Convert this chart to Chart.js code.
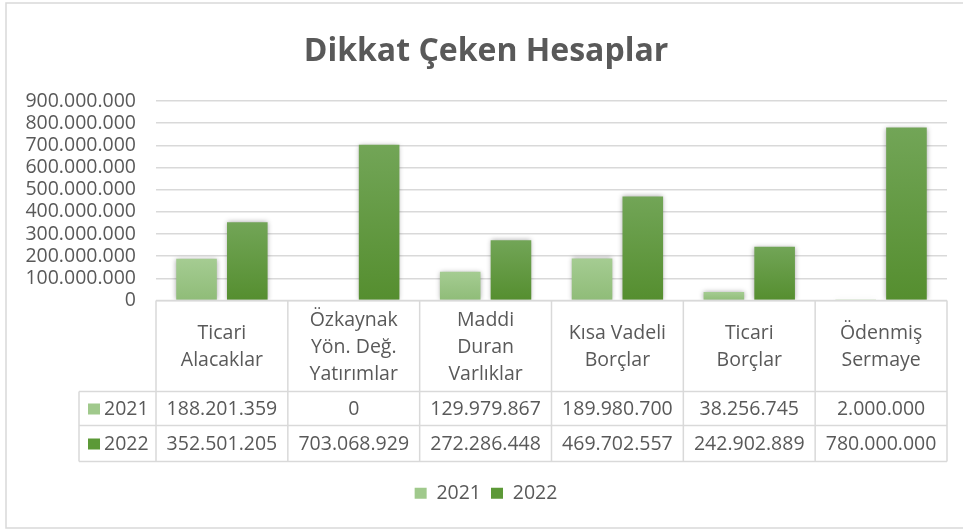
<!DOCTYPE html>
<html>
<head>
<meta charset="utf-8">
<script src="https://cdn.jsdelivr.net/npm/chart.js@4/dist/chart.umd.min.js"></script>
<style>
  body { margin: 0; background: #fff; }
  canvas { display: block; }
</style>
</head>
<body>
<canvas id="accountsChart" width="963" height="530"></canvas>
<script>
// data
const categories = [
    ['Ticari', 'Alacaklar'],
    ['Özkaynak', 'Yön. Değ.', 'Yatırımlar'],
    ['Maddi', 'Duran', 'Varlıklar'],
    ['Kısa Vadeli', 'Borçlar'],
    ['Ticari', 'Borçlar'],
    ['Ödenmiş', 'Sermaye']
];
const seriesNames = ['2021', '2022'];
const values2021 = [188201359, 0, 129979867, 189980700, 38256745, 2000000];
const values2022 = [352501205, 703068929, 272286448, 469702557, 242902889, 780000000];
const yMax = 900000000;
const yStep = 100000000;

const FONT = 'Open Sans';
const FONT_SIZE = 19.5;
const TEXT = '#595959';
const LINE = '#d9d9d9';

function formatNumber(n) {
    return String(n).replace(/\B(?=(\d{3})+(?!\d))/g, '.');
}

// per-bar vertical gradient like the Excel fill
function barFill(top, bottom, flat) {
    return (c) => {
        const chart = c.chart;
        if (c.type !== 'data' || !chart.chartArea || !chart.scales.y) return flat;
        const y = chart.scales.y;
        const y0 = y.getPixelForValue(0);
        const y1 = y.getPixelForValue(c.raw);
        if (!(y0 > y1)) return flat;
        const g = chart.ctx.createLinearGradient(0, y1, 0, y0);
        g.addColorStop(0, top);
        g.addColorStop(1, bottom);
        return g;
    };
}

const frameAndShadow = {
    id: 'frameAndShadow',
    beforeDraw(chart) {
        const ctx = chart.ctx;
        ctx.save();
        ctx.fillStyle = '#fff';
        ctx.fillRect(0, 0, chart.width, chart.height);
        ctx.strokeStyle = LINE;
        ctx.lineWidth = 1.5;
        ctx.strokeRect(6, 3, chart.width + 20, 525);
        ctx.restore();
    },
    beforeDatasetsDraw(chart) {
        const ctx = chart.ctx;
        ctx.save();
        ctx.shadowColor = 'rgba(0, 0, 0, 0.35)';
        ctx.shadowBlur = 5;
        ctx.shadowOffsetX = 0;
        ctx.shadowOffsetY = 0;
    },
    afterDatasetsDraw(chart) {
        chart.ctx.restore();
    }
};

// data table under the plot, drawn from the x scale
const dataTable = {
    id: 'dataTable',
    afterDraw(chart) {
        const ctx = chart.ctx;
        const area = chart.chartArea;
        const n = chart.data.labels.length;
        const catW = (area.right - area.left) / n;
        const y0 = area.bottom;
        const y1 = y0 + 91;
        const y2 = y0 + 125;
        const y3 = y0 + 161;
        const keyLeft = 79;
        const rows = [y1, y2, y3];

        ctx.save();
        ctx.strokeStyle = LINE;
        ctx.lineWidth = 1.5;
        ctx.beginPath();
        ctx.moveTo(area.left, y0);
        ctx.lineTo(area.right, y0);
        rows.forEach(y => {
            ctx.moveTo(keyLeft, y);
            ctx.lineTo(area.right, y);
        });
        for (let i = 0; i <= n; i++) {
            const x = area.left + i * catW;
            ctx.moveTo(x, y0);
            ctx.lineTo(x, y3);
        }
        ctx.moveTo(keyLeft, y1);
        ctx.lineTo(keyLeft, y3);
        ctx.stroke();

        ctx.fillStyle = TEXT;
        ctx.font = FONT_SIZE + 'px "' + FONT + '"';
        ctx.textAlign = 'center';
        ctx.textBaseline = 'middle';
        const lineH = 27;
        chart.data.labels.forEach((label, i) => {
            const cx = area.left + (i + 0.5) * catW;
            const lines = Array.isArray(label) ? label : [label];
            const mid = (y0 + y1) / 2;
            lines.forEach((t, k) => {
                ctx.fillText(t, cx, mid + 1 + (k - (lines.length - 1) / 2) * lineH);
            });
        });

        chart.data.datasets.forEach((ds, r) => {
            const top = r === 0 ? y1 : y2;
            const bottom = r === 0 ? y2 : y3;
            const cy = (top + bottom) / 2;
            ctx.textAlign = 'center';
            ctx.fillStyle = TEXT;
            ds.data.forEach((v, i) => {
                ctx.fillText(formatNumber(v), area.left + (i + 0.5) * catW, cy + 1);
            });
            ctx.fillStyle = ds.legendColor;
            ctx.fillRect(88, cy - 5, 12, 11);
            ctx.fillStyle = TEXT;
            ctx.textAlign = 'left';
            ctx.fillText(ds.label, 104, cy + 1);
        });
        ctx.restore();
    }
};

const ctxChart = document.getElementById('accountsChart').getContext('2d');
new Chart(ctxChart, {
    type: 'bar',
    data: {
        labels: categories,
        datasets: [{
            label: seriesNames[0],
            data: values2021,
            legendColor: '#a0c98c',
            backgroundColor: barFill('#a5cc92', '#8fbc78', '#a0c98c'),
            categoryPercentage: 0.77,
            barPercentage: 0.8
        }, {
            label: seriesNames[1],
            data: values2022,
            legendColor: '#5c9937',
            backgroundColor: barFill('#72a557', '#558e2f', '#5c9937'),
            categoryPercentage: 0.77,
            barPercentage: 0.8
        }]
    },
    options: {
        responsive: false,
        animation: false,
        layout: { padding: { left: 25, right: 16, top: 0, bottom: 17 } },
        plugins: {
            title: {
                display: true,
                text: 'Dikkat Çeken Hesaplar',
                color: TEXT,
                font: { family: FONT, size: 32, weight: 'bold' },
                padding: { top: 33, bottom: 29.6 }
            },
            legend: {
                position: 'bottom',
                labels: {
                    color: TEXT,
                    font: { family: FONT, size: FONT_SIZE },
                    boxWidth: 12,
                    boxHeight: 11,
                    padding: 10,
                    generateLabels(chart) {
                        return chart.data.datasets.map((ds, i) => ({
                            text: ds.label,
                            fillStyle: ds.legendColor,
                            strokeStyle: ds.legendColor,
                            lineWidth: 0,
                            fontColor: TEXT,
                            datasetIndex: i
                        }));
                    }
                }
            },
            tooltip: { enabled: false }
        },
        scales: {
            x: {
                ticks: { display: false },
                grid: { display: false, drawTicks: false },
                border: { display: false },
                afterFit(scale) { scale.height = 173; }
            },
            y: {
                min: 0,
                max: yMax,
                ticks: {
                    stepSize: yStep,
                    autoSkip: false,
                    color: TEXT,
                    font: { family: FONT, size: FONT_SIZE, lineHeight: 1 },
                    padding: 20,
                    callback: (v) => formatNumber(v)
                },
                grid: { color: LINE, lineWidth: 1.5, drawTicks: false },
                border: { display: false },
                afterFit(scale) { scale.width = 131; }
            }
        }
    },
    plugins: [frameAndShadow, dataTable]
});
</script>
</body>
</html>
